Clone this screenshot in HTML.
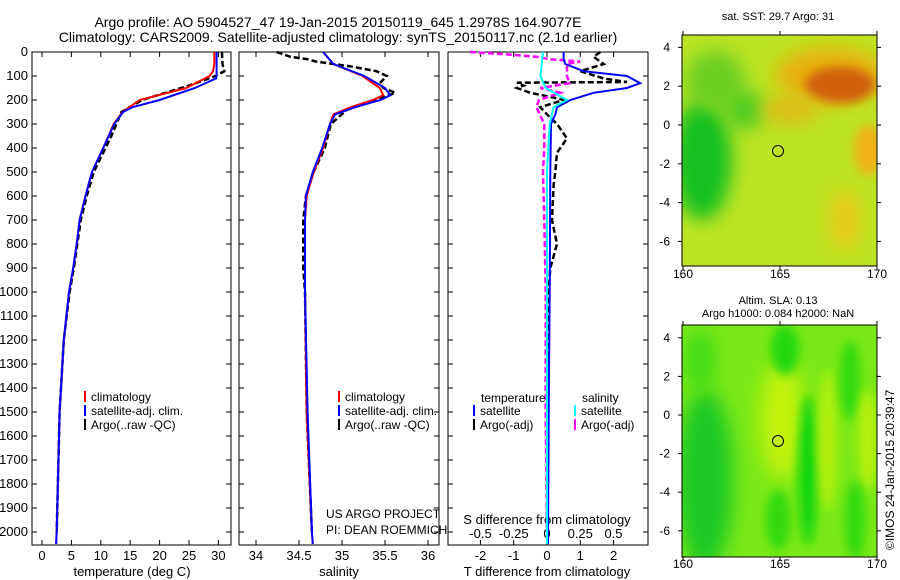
<!DOCTYPE html>
<html><head><meta charset="utf-8"><style>
body{margin:0;background:#fff;}
svg{display:block;font-family:"Liberation Sans",sans-serif;}
</style></head><body>
<svg id="c" width="900" height="580" viewBox="0 0 900 580">
<defs>
<filter id="bl" x="-50%" y="-50%" width="200%" height="200%"><feGaussianBlur stdDeviation="9"/></filter>
<filter id="bl2" x="-50%" y="-50%" width="200%" height="200%"><feGaussianBlur stdDeviation="5"/></filter>
<clipPath id="m1"><rect x="682" y="35" width="195" height="231"/></clipPath>
<clipPath id="m2"><rect x="682" y="325" width="195" height="232"/></clipPath>
<clipPath id="p3"><rect x="0" y="0" width="452" height="580"/></clipPath>
</defs>
<text x="338" y="27" font-size="14" text-anchor="middle">Argo profile: AO 5904527_47 19-Jan-2015 20150119_645 1.2978S 164.9077E</text>
<text x="338" y="42" font-size="14" text-anchor="middle">Climatology: CARS2009. Satellite-adjusted climatology: synTS_20150117.nc (2.1d earlier)</text>

<g clip-path="url(#m1)">
<rect x="682" y="35" width="195" height="231" fill="#bde424"/>
<ellipse cx="702" cy="160" rx="30" ry="60" fill="#18c020" filter="url(#bl)"/>
<ellipse cx="715" cy="80" rx="30" ry="30" fill="#6cd020" filter="url(#bl)"/>
<ellipse cx="745" cy="110" rx="20" ry="20" fill="#50cc20" filter="url(#bl)"/>
<ellipse cx="830" cy="75" rx="55" ry="28" fill="#e8b010" filter="url(#bl)"/>
<ellipse cx="840" cy="85" rx="35" ry="18" fill="#d06010" filter="url(#bl2)"/>
<ellipse cx="790" cy="110" rx="30" ry="12" fill="#e0b818" filter="url(#bl)"/>
<ellipse cx="868" cy="150" rx="14" ry="25" fill="#f0b018" filter="url(#bl2)"/>
<ellipse cx="845" cy="220" rx="15" ry="30" fill="#e8c818" filter="url(#bl)"/>
</g>
<rect x="682" y="35" width="195" height="231" fill="none" stroke="#000"/>
<circle cx="778" cy="151" r="5.5" fill="none" stroke="#000"/>
<text x="778" y="20" font-size="11" text-anchor="middle">sat. SST: 29.7 Argo: 31</text>

<g clip-path="url(#m2)">
<rect x="682" y="325" width="195" height="232" fill="#7ae818"/>
<ellipse cx="705" cy="480" rx="28" ry="90" fill="#1ec828" filter="url(#bl)"/>
<ellipse cx="700" cy="360" rx="15" ry="30" fill="#40dc14" filter="url(#bl)"/>
<ellipse cx="782" cy="420" rx="22" ry="60" fill="#c4f208" filter="url(#bl)"/>
<ellipse cx="785" cy="350" rx="14" ry="25" fill="#20d810" filter="url(#bl2)"/>
<ellipse cx="808" cy="470" rx="9" ry="75" fill="#10d410" filter="url(#bl2)"/>
<ellipse cx="828" cy="440" rx="10" ry="70" fill="#b0ee10" filter="url(#bl2)"/>
<ellipse cx="850" cy="380" rx="10" ry="40" fill="#30da10" filter="url(#bl2)"/>
<ellipse cx="868" cy="440" rx="10" ry="50" fill="#b8f010" filter="url(#bl2)"/>
<ellipse cx="855" cy="520" rx="10" ry="40" fill="#30da10" filter="url(#bl2)"/>
<ellipse cx="778" cy="520" rx="12" ry="30" fill="#30da10" filter="url(#bl2)"/>
</g>
<rect x="682" y="325" width="195" height="232" fill="none" stroke="#000"/>
<circle cx="778" cy="441" r="5.5" fill="none" stroke="#000"/>
<text x="778" y="304" font-size="11" text-anchor="middle">Altim. SLA: 0.13</text>
<text x="778" y="317" font-size="11" text-anchor="middle">Argo h1000: 0.084 h2000: NaN</text>
<text transform="translate(894,550) rotate(-90)" font-size="12">©IMOS 24-Jan-2015 20:39:47</text>

<text x="326" y="518" font-size="12">US ARGO PROJECT</text>
<g clip-path="url(#p3)"><text x="326" y="534" font-size="12">PI: DEAN ROEMMICH</text></g>
</svg>
<script>
const NS='http://www.w3.org/2000/svg';
const svg=document.getElementById('c');
const depthTicks=[0,100,200,300,400,500,600,700,800,900,1000,1100,1200,1300,1400,1500,1600,1700,1800,1900,2000];
const tempTicks=[0,5,10,15,20,25,30];
const tDepth=[0,50,80,100,150,200,250,300,400,500,600,700,800,900,1000,1200,1500,2000,2050];
const tClim=[29.3,29.3,29.1,28.5,24.5,16.6,13.7,12.2,10.4,8.5,7.4,6.4,5.9,5.3,4.6,3.7,3.0,2.5,2.4];
const satDepthT=[0,50,100,110,150,200,230,250,300,400,500,600,700,800,900,1000,1200,1500,2000,2050];
const tSat=[29.7,29.7,29.7,29.6,26.0,20.0,15.4,13.8,12.3,10.4,8.5,7.4,6.4,5.9,5.3,4.6,3.7,3.0,2.5,2.4];
const argoDepthT=[0,50,80,100,140,200,250,350,400,450,500,600,700,800,900,1000,1200,1500,2000];
const tArgo=[30.6,30.7,31.0,29.5,25.0,17.0,13.5,11.8,10.8,9.8,8.8,7.6,6.6,6.0,5.4,4.7,3.7,3.0,2.5];
const salTicks=[34,34.5,35,35.5,36];
const sDepth=[0,50,100,150,180,200,230,260,300,400,500,600,700,1000,1500,2000,2050];
const sClim=[34.78,34.9,35.24,35.44,35.48,35.36,35.1,34.9,34.86,34.78,34.67,34.59,34.57,34.57,34.59,34.65,34.66];
const sSat=[34.78,34.9,35.26,35.5,35.56,35.45,35.15,34.92,34.86,34.77,34.66,34.58,34.57,34.57,34.6,34.65,34.66];
const argoDepthS=[0,20,30,40,60,80,100,130,150,170,200,240,300,400,500,600,700,900,1000,1500,2000];
const sArgo=[34.24,34.4,34.6,34.7,35.1,35.4,35.52,35.44,35.48,35.62,35.4,35.06,34.87,34.8,34.67,34.58,34.55,34.55,34.57,34.59,34.65];
const dtTicks=[-2,-1,0,1,2];
const dsTicks=[-0.5,-0.25,0,0.25,0.5];
const dtSatDepth=[0,30,50,80,100,130,150,170,200,230,260,300,500,1000,1500,2050];
const dtSat=[0.5,0.5,0.55,1.1,2.4,2.8,2.4,1.4,0.7,0.3,0.25,0.12,0.1,0.08,0.05,0.03];
const dtArgoDepth=[0,20,50,80,110,125,128,140,150,170,190,200,230,260,300,360,400,420,500,550,700,800,900,1000,1500,2000];
const dtArgo=[1.6,1.4,1.7,1.0,1.7,2.4,-0.9,-0.7,-0.9,-0.5,0.2,0.5,-0.2,0.0,0.3,0.6,0.4,0.3,0.25,0.2,0.15,0.3,0.1,0.05,0.02,0.0];
const dsSatDepth=[0,100,150,200,230,300,500,1000,2000,2050];
const dsSat=[-0.03,-0.05,-0.01,0.15,0.05,0.02,0.0,0.0,0.0,0.0];
const dsArgoDepth=[0,10,20,30,40,50,80,100,130,150,170,200,230,300,400,500,700,1000,1500,2000];
const dsArgo=[-0.58,-0.3,-0.08,0.02,0.25,0.15,0.15,0.15,0.17,-0.05,0.1,-0.06,-0.08,-0.02,-0.02,-0.03,-0.02,-0.01,-0.01,0.0];
const lonTicks=[160,165,170];
const latTicks=[4,2,0,-2,-4,-6];

const yD=d=>52+0.24*d;
const xT=t=>42+5.88*t;
const xS=s=>256+86*(s-34);
const xDT=v=>547+33.3*v;
const xDS=v=>547+133*v;
const mx=l=>683+19.4*(l-160);
const my1=l=>125-19.4*l;
const my2=l=>415-19.3*l;

function el(tag,attrs,parent){const e=document.createElementNS(NS,tag);for(const k in attrs)e.setAttribute(k,attrs[k]);(parent||svg).appendChild(e);return e;}
function txt(x,y,s,anchor,size){const t=el('text',{x:x,y:y,'font-size':size||12,'text-anchor':anchor||'middle'});t.textContent=s;return t;}
function line(xs,ds,fx,color,w,dash,name){
  let d='';for(let i=0;i<xs.length;i++)d+=(i?'L':'M')+fx(xs[i]).toFixed(1)+' '+yD(ds[i]).toFixed(1);
  const p=el('path',{d:d,fill:'none',stroke:color,'stroke-width':w});
  if(dash)p.setAttribute('stroke-dasharray',dash);
  
  
  return p;
}
const panels=[[32,231,'temperature-panel'],[239,439,'salinity-panel'],[448,648,'difference-panel']];
panels.forEach(p=>{
  const r=el('rect',{x:p[0],y:52,width:p[1]-p[0],height:493,fill:'none',stroke:'#000'});
  
  
  depthTicks.forEach(d=>{el('line',{x1:p[0],x2:p[0]+5,y1:yD(d),y2:yD(d),stroke:'#000'});el('line',{x1:p[1],x2:p[1]-5,y1:yD(d),y2:yD(d),stroke:'#000'});});
});
depthTicks.forEach(d=>{const t=txt(28,yD(d)+4,String(d),'end',13);
  
  });
function xaxis(ticks,f,y,fmt,name){ticks.forEach(v=>{const x=f(v);
  el('line',{x1:x,x2:x,y1:545,y2:540,stroke:'#000'});el('line',{x1:x,x2:x,y1:52,y2:57,stroke:'#000'});
  const t=txt(x,y,fmt(v),'middle',13);
  
  });}
xaxis(tempTicks,xT,560,String,'temperature-tick-label');
xaxis(salTicks,xS,560,String,'salinity-tick-label');
xaxis(dtTicks,xDT,560,String,'t-diff-tick-label');
dsTicks.forEach(v=>{const t=txt(xDS(v),538,String(v),'middle',13);
  
  });
[[132,'temperature (deg C)','temperature-axis-title'],[339,'salinity','salinity-axis-title'],[547,'T difference from climatology','t-diff-axis-title']].forEach(a=>{
  const t=txt(a[0],576,a[1],'middle',13);
  
  });
const st=txt(547,524,'S difference from climatology','middle',13);



line(tArgo,argoDepthT,xT,'#000',2.5,'6 3','temp-argo-line');
line(tClim,tDepth,xT,'#f00',2,null,'temp-climatology-line');
line(tSat,satDepthT,xT,'#00f',2,null,'temp-satellite-line');
line(sArgo,argoDepthS,xS,'#000',2.5,'6 3','sal-argo-line');
line(sClim,sDepth,xS,'#f00',2,null,'sal-climatology-line');
line(sSat,sDepth,xS,'#00f',2,null,'sal-satellite-line');
line(dtArgo,dtArgoDepth,xDT,'#000',2.5,'6 3','tdiff-argo-line');
line(dsArgo,dsArgoDepth,xDS,'#f0f',2.5,'6 3','sdiff-argo-line');
line(dtSat,dtSatDepth,xDT,'#00f',2,null,'tdiff-satellite-line');
line(dsSat,dsSatDepth,xDS,'#0ff',2,null,'sdiff-satellite-line');

function leg(x,y,color,label){
  el('rect',{x:x,y:y-10,width:2,height:11,fill:color});
  const t=txt(x+7,y,label,'start');
  
  }
[[401,'#f00','climatology'],[415,'#00f','satellite-adj. clim.'],[429,'#000','Argo(..raw -QC)']].forEach(r=>{leg(84,r[0],r[1],r[2]);leg(338,r[0],r[1],r[2]);});
txt(481,402,'temperature','start');txt(582,402,'salinity','start');
leg(473,415,'#00f','satellite');leg(473,429,'#000','Argo(-adj)');
leg(574,415,'#0ff','satellite');leg(574,429,'#f0f','Argo(-adj)');

[[my1,35,266,278],[my2,325,557,568]].forEach(m=>{
  lonTicks.forEach(l=>{const x=mx(l);const t=txt(x,m[3],String(l));
    
    
    el('line',{x1:x,x2:x,y1:m[2],y2:m[2]+4,stroke:'#000'});
    el('line',{x1:x,x2:x,y1:m[1],y2:m[1]-4,stroke:'#000'});});
  latTicks.forEach(l=>{const y=m[0](l);const t=txt(670,y+4,String(l),'end');
    
    
    el('line',{x1:877,x2:881,y1:y,y2:y,stroke:'#000'});
    el('line',{x1:682,x2:678,y1:y,y2:y,stroke:'#000'});});
});
</script>
</body></html>
